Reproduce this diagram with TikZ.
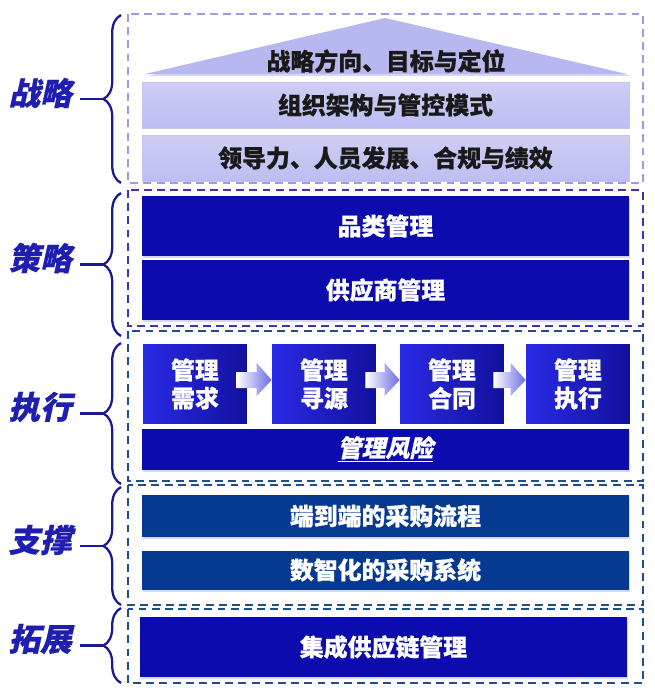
\documentclass[tikz,border=0pt]{standalone}
\usepackage{fontspec}
\newfontfamily\cjk[BoldFeatures={FakeBold=0.6}]{Noto Sans CJK SC}
\newfontfamily\cjkslant[FakeSlant=0.22, BoldFeatures={FakeBold=0.6}]{Noto Sans CJK SC}
\usetikzlibrary{calc, decorations.pathreplacing, shadows}
\definecolor{navy}{HTML}{0C0CAE}
\definecolor{royal}{HTML}{2A2AE6}
\definecolor{deepnavy}{HTML}{11119E}
\definecolor{steel}{HTML}{063A90}
\definecolor{lavender}{HTML}{BDBDF2}
\definecolor{lilac}{HTML}{9C9CE2}
\definecolor{violet}{HTML}{3C34B6}
\definecolor{slate}{HTML}{1F4E8A}
\definecolor{inkblue}{HTML}{1E1EB0}
\definecolor{arrowblue}{HTML}{6C6CE4}

\begin{document}
\begin{tikzpicture}[
    x=0.02cm, y=-0.02cm,
    every node/.style={font=\cjk\bfseries\fontsize{13.6pt}{16pt}\selectfont},
    lavbox/.style={draw=lilac!60, line width=0.4pt, top color=lavender!75,
      bottom color=lavender, minimum width=9.74cm, minimum height=0.92cm,
      inner sep=0pt, text=black!90},
    darkbox/.style={fill=navy, minimum width=9.74cm, minimum height=1.2cm,
      inner sep=0pt, text=white,
      drop shadow={fill=lilac, opacity=0.4, shadow xshift=0.4pt, shadow yshift=-1.2pt}},
    stepbox/.style={left color=royal, right color=deepnavy, minimum width=2.08cm,
      minimum height=1.6cm, inner sep=0pt, text=white, align=center},
    supbox/.style={darkbox, fill=steel},
    flowarrow/.style={left color=white, right color=arrowblue},
    sidelabel/.style={font=\cjkslant\bfseries\fontsize{18pt}{20pt}\selectfont,
      text=inkblue, anchor=east, inner xsep=4.5pt},
    bline/.style={inkblue!85!black, line width=1.3pt},
    sidebrace/.style={bline, decorate, decoration={brace, amplitude=10pt}},
    frameA/.style={lilac, line width=0.9pt, dash pattern=on 4.5pt off 3pt},
    frameB/.style={frameA, violet},
    frameC/.style={frameA, slate},
  ]

  \useasboundingbox (0,0) rectangle (655,697);

  % === Dashed frames ===
  \draw[frameA] (128,14) rectangle (643,183);
  \draw[frameB] (128,190) rectangle (643,326);
  \draw[frameC] (128,331) rectangle (643,481);
  \draw[frameC] (128,485) rectangle (643,605);
  \draw[frameC] (128,609) rectangle (643,683);

  % === Strategy: roof and two bars ===
  \fill[lavender!85!lilac, drop shadow={fill=lilac, opacity=0.4, shadow yshift=-1pt}]
    (145,74) -- (385,18) -- (627,74) -- cycle;
  \node[text=black!90] (goal) at (386,61) {战略方向、目标与定位};
  \node[lavbox] (org) at (385.5,105) {组织架构与管控模式};
  \node[lavbox] (lead) at (385.5,158) {领导力、人员发展、合规与绩效};

  % === Tactics ===
  \node[darkbox] (cat) at (385.5,226) {品类管理};
  \node[darkbox] (sup) at (385.5,290) {供应商管理};

  % === Execution steps ===
  \node[stepbox] (dem) at (195,384) {管理\\需求};
  \node[stepbox] (src) at (324,384) {管理\\寻源};
  \node[stepbox] (con) at (452,384) {管理\\合同};
  \node[stepbox] (exe) at (578,384) {管理\\执行};
  \foreach \a/\b in {dem/src, src/con, con/exe}
    \shade[flowarrow] ($(\a.east)+(-11,-12)$) -- ($(\b.west)+(-15,-12)$)
      -- ($(\b.west)+(-15,-21)$) -- ($(\b.west)+(0,-4)$)
      -- ($(\b.west)+(-15,12)$) -- ($(\b.west)+(-15,4)$)
      -- ($(\a.east)+(-11,4)$) -- cycle;
  \node[darkbox, minimum height=0.82cm, font=\cjkslant\bfseries\fontsize{13.6pt}{16pt}\selectfont]
    (risk) at (385.5,449.5) {\underline{管理风险}};

  % === Support ===
  \node[supbox, minimum height=0.84cm] (proc) at (385.5,516) {端到端的采购流程};
  \node[supbox, minimum height=0.78cm] (sys) at (385.5,570) {数智化的采购系统};

  % === Extension ===
  \node[darkbox] (scm) at (383.5,647) {集成供应链管理};

  % === Side labels and braces ===
  \draw[sidebrace] (121,183) -- (121,15);
  \coordinate (t1) at (103,99);
  \node[sidelabel] (l1) at (80,93) {战略};
  \draw[bline] (t1 -| l1.east) -- (t1);

  \draw[sidebrace] (121,336) -- (121,193);
  \coordinate (t2) at (103,264.5);
  \node[sidelabel] (l2) at (80,258) {策略};
  \draw[bline] (t2 -| l2.east) -- (t2);

  \draw[sidebrace] (121,484) -- (121,343);
  \coordinate (t3) at (103,413.5);
  \node[sidelabel] (l3) at (80,407) {执行};
  \draw[bline] (t3 -| l3.east) -- (t3);

  \draw[sidebrace] (121,605) -- (121,487);
  \coordinate (t4) at (103,546);
  \node[sidelabel] (l4) at (80,540) {支撑};
  \draw[bline] (t4 -| l4.east) -- (t4);

  \draw[sidebrace] (121,683) -- (121,608);
  \coordinate (t5) at (103,645.5);
  \node[sidelabel] (l5) at (80,639) {拓展};
  \draw[bline] (t5 -| l5.east) -- (t5);

\end{tikzpicture}
\end{document}
